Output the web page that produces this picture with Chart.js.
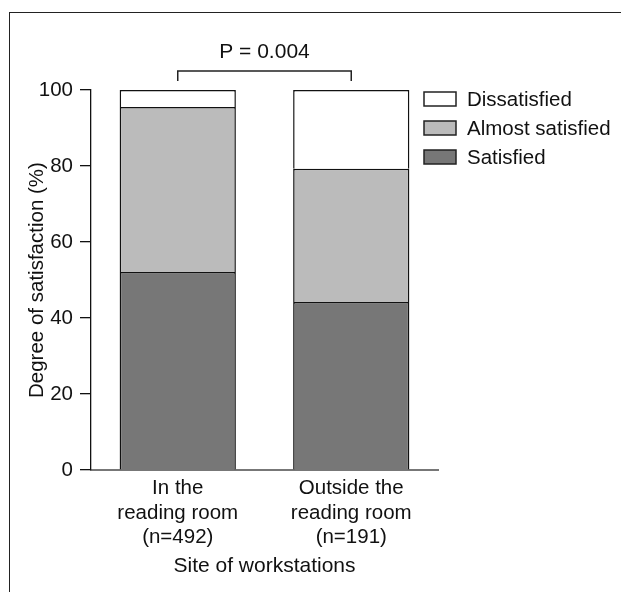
<!DOCTYPE html>
<html>
<head>
<meta charset="utf-8">
<script src="https://cdn.jsdelivr.net/npm/chart.js@4.4.1/dist/chart.umd.min.js"></script>
<style>
    html, body { margin: 0; padding: 0; background: #fff; overflow: hidden; }
    #wrap { position: relative; width: 621px; height: 592px; }
    #frame { position: absolute; left: 9px; top: 12px; width: 800px; height: 800px; border: 1.5px solid #222; box-sizing: border-box; }
    #chart { position: absolute; left: 0; top: 0; }
</style>
</head>
<body>
<div id="wrap">
    <div id="frame"></div>
    <canvas id="chart" width="621" height="592"></canvas>
</div>
<script>
const categories = [['In the', 'reading room', '(n=492)'], ['Outside the', 'reading room', '(n=191)']];
const satisfied = [52.1, 44.2];
const almostSatisfied = [43.4, 35.1];
const dissatisfied = [4.5, 20.7];
const yTicks = [0, 20, 40, 60, 80, 100];
const pValueText = 'P = 0.004';

const FONT = '"Liberation Sans", Arial, Helvetica, sans-serif';
const INK = '#111';

// bracket + p value over the two bars
const bracketPlugin = {
    id: 'bracket',
    afterDraw(chart) {
        const ctx = chart.ctx;
        const x = chart.scales.x, y = chart.scales.y;
        const x1 = x.getPixelForValue(0), x2 = x.getPixelForValue(1);
        const top = y.getPixelForValue(105), foot = y.getPixelForValue(102.4);
        ctx.save();
        ctx.strokeStyle = '#222';
        ctx.lineWidth = 1.5;
        ctx.beginPath();
        ctx.moveTo(x1, foot);
        ctx.lineTo(x1, top);
        ctx.lineTo(x2, top);
        ctx.lineTo(x2, foot);
        ctx.stroke();
        ctx.fillStyle = INK;
        ctx.font = '21px ' + FONT;
        ctx.textAlign = 'center';
        ctx.textBaseline = 'middle';
        ctx.fillText(pValueText, (x1 + x2) / 2, y.getPixelForValue(110));
        ctx.restore();
    }
};

// legend to the right of the bars, top entry = top segment
const legendPlugin = {
    id: 'sideLegend',
    afterDraw(chart) {
        const ctx = chart.ctx;
        const sets = chart.data.datasets.slice().reverse();
        const left = chart.chartArea.right - 14;
        let cy = chart.scales.y.getPixelForValue(100) + 9;
        ctx.save();
        ctx.font = '20.5px ' + FONT;
        ctx.textBaseline = 'middle';
        sets.forEach(ds => {
            ctx.fillStyle = ds.backgroundColor;
            ctx.fillRect(left, cy - 7, 32, 14);
            ctx.strokeStyle = '#222';
            ctx.lineWidth = 1.5;
            ctx.strokeRect(left, cy - 7, 32, 14);
            ctx.fillStyle = INK;
            ctx.fillText(ds.label, left + 43, cy + 1);
            cy += 29;
        });
        ctx.restore();
    }
};

new Chart(document.getElementById('chart').getContext('2d'), {
    type: 'bar',
    data: {
        labels: categories,
        datasets: [
            { label: 'Satisfied', data: satisfied, backgroundColor: '#777777' },
            { label: 'Almost satisfied', data: almostSatisfied, backgroundColor: '#bbbbbb' },
            { label: 'Dissatisfied', data: dissatisfied, backgroundColor: '#ffffff' }
        ].map(ds => Object.assign(ds, {
            borderColor: INK,
            borderWidth: 1.5,
            categoryPercentage: 1,
            barPercentage: 0.67
        }))
    },
    options: {
        responsive: false,
        animation: false,
        layout: { padding: { left: 27, top: 90, right: 183, bottom: 13.5 } },
        plugins: { legend: { display: false }, tooltip: { enabled: false } },
        scales: {
            x: {
                stacked: true,
                grid: { display: false, drawTicks: false },
                border: { display: true, color: '#777', width: 2 },
                ticks: { color: INK, padding: 6, font: { family: FONT, size: 20.5, lineHeight: 1.2 } },
                title: {
                    display: true, text: 'Site of workstations', color: INK,
                    padding: { top: -2, bottom: 0 },
                    font: { family: FONT, size: 21, lineHeight: 1.17 }
                }
            },
            y: {
                stacked: true,
                min: 0, max: 100,
                afterBuildTicks: s => { s.ticks = yTicks.map(v => ({ value: v })); },
                afterFit: s => { s.width = 64; },
                grid: { drawOnChartArea: false, drawTicks: true, tickLength: 11, color: INK, lineWidth: 1.3 },
                border: { display: true, color: INK, width: 1.3 },
                ticks: { color: INK, padding: 7, font: { family: FONT, size: 20.5 } },
                title: {
                    display: true, text: 'Degree of satisfaction (%)', color: INK,
                    padding: { top: 0, bottom: 0 },
                    font: { family: FONT, size: 20.5, lineHeight: 1.0 }
                }
            }
        }
    },
    plugins: [bracketPlugin, legendPlugin]
});
</script>
</body>
</html>
